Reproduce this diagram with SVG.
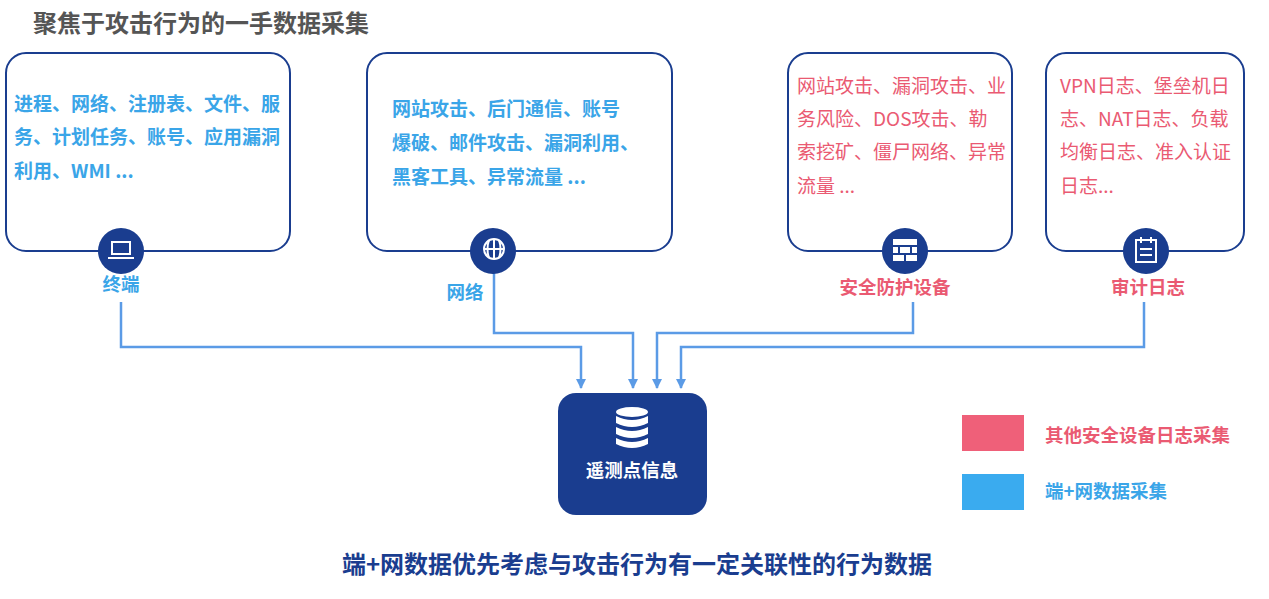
<svg xmlns="http://www.w3.org/2000/svg" width="1269" height="599" viewBox="0 0 1269 599">
<defs>
<style>
text{font-family:"Noto Sans CJK SC","Noto Sans",sans-serif}
.box{fill:#fff;stroke:#1a3d8f;stroke-width:2}
.ic{fill:#1a3d8f}
.bt{fill:#3aa5e8;font-size:19px;font-weight:bold}
.rt{fill:#ea5a72;font-size:19px}
.lb{fill:#3aa5e8;font-size:18.5px;font-weight:bold}
.lr{fill:#ea5a72;font-size:18.5px;font-weight:bold}
.cn{fill:none;stroke:#5b9be6;stroke-width:2.5;marker-end:url(#ar)}
.w{fill:none;stroke:#fff;stroke-width:2}
</style>
<marker id="ar" viewBox="0 0 10 10" refX="9" refY="5" markerWidth="4" markerHeight="4" orient="auto"><path d="M0 0L10 5L0 10z" fill="#5b9be6"/></marker>
</defs>
<text x="33" y="32" font-size="24" font-weight="bold" fill="#555">聚焦于攻击行为的一手数据采集</text>
<g id="connectors">
<path class="cn" d="M121 302V347H581V388"/>
<path class="cn" d="M494 271V333H633V388"/>
<path class="cn" d="M913 302V333H657V388"/>
<path class="cn" d="M1144 302V347H681V388"/>
</g>
<g id="terminal">
<rect class="box" x="6" y="53" width="284" height="198" rx="20"/>
<text class="bt" x="14" y="111">进程、网络、注册表、文件、服</text>
<text class="bt" x="14" y="144">务、计划任务、账号、应用漏洞</text>
<text class="bt" x="14" y="178">利用、WMI ...</text>
<circle class="ic" cx="121" cy="251" r="23"/>
<rect class="w" x="112" y="242" width="18" height="12" stroke-width="1.8"/>
<path d="M108 258H134" stroke="#fff" stroke-width="2"/>
<text class="lb" x="121" y="291" text-anchor="middle">终端</text>
</g>
<g id="network">
<rect class="box" x="367" y="53" width="305" height="198" rx="20"/>
<text class="bt" x="392" y="116">网站攻击、后门通信、账号</text>
<text class="bt" x="392" y="150">爆破、邮件攻击、漏洞利用、</text>
<text class="bt" x="392" y="184">黑客工具、异常流量 ...</text>
<circle class="ic" cx="493" cy="251" r="23"/>
<circle class="w" cx="494" cy="249" r="10" stroke-width="1.6"/>
<path class="w" stroke-width="1.4" d="M484 249H504M494 239V259M489 240Q486 249 489 258M499 240Q502 249 499 258"/>
<text class="lb" x="465" y="299" text-anchor="middle">网络</text>
</g>
<g id="security">
<rect class="box" x="788" y="53" width="224" height="198" rx="20"/>
<text class="rt" x="797" y="93">网站攻击、漏洞攻击、业</text>
<text class="rt" x="797" y="126">务风险、DOS攻击、勒</text>
<text class="rt" x="797" y="159">索挖矿、僵尸网络、异常</text>
<text class="rt" x="797" y="193">流量 ...</text>
<circle class="ic" cx="905" cy="251" r="23"/>
<g fill="#fff"><rect x="893" y="239" width="24" height="6"/><rect x="893" y="247" width="5" height="6"/><rect x="900" y="247" width="10" height="6"/><rect x="912" y="247" width="5" height="6"/><rect x="893" y="255" width="11" height="6"/><rect x="906" y="255" width="11" height="6"/></g>
<text class="lr" x="895" y="294" text-anchor="middle">安全防护设备</text>
</g>
<g id="audit">
<rect class="box" x="1046" y="53" width="198" height="198" rx="20"/>
<text class="rt" x="1060" y="93">VPN日志、堡垒机日</text>
<text class="rt" x="1060" y="126">志、NAT日志、负载</text>
<text class="rt" x="1060" y="159">均衡日志、准入认证</text>
<text class="rt" x="1060" y="193">日志...</text>
<circle class="ic" cx="1146" cy="251" r="23"/>
<rect class="w" x="1136" y="240" width="20" height="22"/>
<path class="w" d="M1141 237V243M1151 237V243M1140 249H1152M1140 255H1152"/>
<text class="lr" x="1148" y="294" text-anchor="middle">审计日志</text>
</g>
<g id="center">
<rect x="558" y="393" width="149" height="122" rx="18" fill="#1a3d8f"/>
<g fill="#fff"><ellipse cx="632" cy="412" rx="16" ry="5"/><path d="M616 416Q632 424 648 416V423Q632 431 616 423z"/><path d="M616 427Q632 435 648 427V434Q632 442 616 434z"/><path d="M616 438Q632 446 648 438V444Q632 452 616 444z"/></g>
<text x="632" y="477" text-anchor="middle" fill="#fff" font-size="18.5" font-weight="bold">遥测点信息</text>
</g>
<g id="legend-red">
<rect x="962" y="415" width="62" height="36" fill="#ef6079"/>
<text class="lr" x="1045" y="442">其他安全设备日志采集</text>
</g>
<g id="legend-blue">
<rect x="962" y="474" width="62" height="36" fill="#3aabef"/>
<text class="lb" x="1045" y="498">端+网数据采集</text>
</g>
<text x="637" y="573" text-anchor="middle" font-size="24" font-weight="bold" fill="#1a3d8f">端+网数据优先考虑与攻击行为有一定关联性的行为数据</text>
</svg>
